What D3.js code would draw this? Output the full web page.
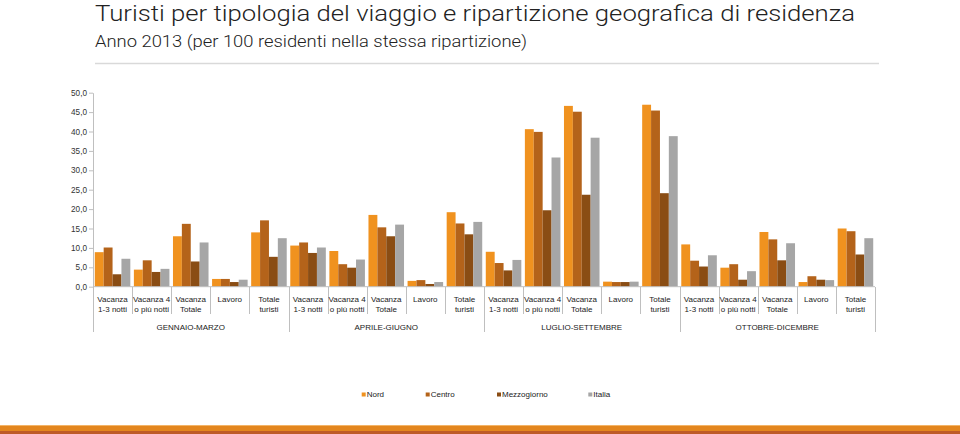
<!DOCTYPE html>
<html>
<head>
<meta charset="utf-8">
<script src="https://cdn.jsdelivr.net/npm/d3@7/dist/d3.min.js"></script>
<style>
html,body{margin:0;padding:0;background:#fff;}
svg{display:block;}
</style>
</head>
<body>
<svg id="chart" width="960" height="434"></svg>
<script>
const periods = ["GENNAIO-MARZO","APRILE-GIUGNO","LUGLIO-SETTEMBRE","OTTOBRE-DICEMBRE"];
const types = [["Vacanza","1-3 notti"],["Vacanza 4","o più notti"],["Vacanza","Totale"],["Lavoro",""],["Totale","turisti"]];
const seriesNames = ["Nord","Centro","Mezzogiorno","Italia"];
const seriesColors = ["#F0921F","#B4631A","#8A4D14","#A6A6A6"];
const yTicks = [0,5,10,15,20,25,30,35,40,45,50];
// values per category (20 = 4 periods x 5 types)
const nord        = [8.9,4.4,13.0,2.0,14.0, 10.6,9.2,18.5,1.5,19.2, 9.0,40.6,46.6,1.3,46.9, 10.9,4.9,14.1,1.2,15.0];
const centro      = [10.1,6.8,16.2,2.0,17.1, 11.4,5.8,15.3,1.7,16.3, 6.1,39.9,45.1,1.2,45.4, 6.7,5.8,12.2,2.7,14.3];
const mezzogiorno = [3.2,3.8,6.5,1.2,7.7, 8.7,4.9,13.0,0.7,13.5, 4.2,19.7,23.7,1.2,24.1, 5.2,1.8,6.8,1.8,8.3];
const italia      = [7.2,4.6,11.4,1.8,12.5, 10.1,7.0,16.0,1.2,16.7, 6.9,33.3,38.4,1.3,38.8, 8.1,4.0,11.2,1.7,12.5];
const seriesValues = [nord, centro, mezzogiorno, italia];

const svg = d3.select("#chart");
const font = "'Liberation Sans', Arial, sans-serif";
const fs = 8;

// Title
svg.append("text").attr("x",95).attr("y",21)
  .attr("font-family","Roboto, sans-serif").attr("font-weight",300)
  .attr("font-size",22.5).attr("fill","#222")
  .attr("textLength",760).attr("lengthAdjust","spacingAndGlyphs")
  .text("Turisti per tipologia del viaggio e ripartizione geografica di residenza");
svg.append("text").attr("x",95).attr("y",47)
  .attr("font-family","Roboto, sans-serif").attr("font-weight",300)
  .attr("font-size",16).attr("fill","#222")
  .attr("textLength",432).attr("lengthAdjust","spacingAndGlyphs")
  .text("Anno 2013 (per 100 residenti nella stessa ripartizione)");
svg.append("line").attr("x1",95).attr("x2",879).attr("y1",63.5).attr("y2",63.5)
  .attr("stroke","#d9d9d9").attr("stroke-width",1.5);

// Scales
const categories = d3.range(20);
const x = d3.scaleBand().domain(categories).range([93,875]).paddingInner(0).paddingOuter(0);
const inner = d3.scaleBand().domain(d3.range(4)).range([0, x.bandwidth()]).paddingOuter(0.2).paddingInner(0);
const y = d3.scaleLinear().domain([0,50]).range([286.7,92.7]);

// Y axis
const yAxis = d3.axisLeft(y).tickValues(yTicks).tickSize(4).tickSizeOuter(0)
  .tickFormat(d => d3.format(".1f")(d).replace(".",","));
const gy = svg.append("g").attr("transform","translate(93,0)").call(yAxis);
gy.select(".domain").attr("stroke","#bfbfbf");
gy.selectAll(".tick line").attr("stroke","#bfbfbf");
gy.selectAll(".tick text").attr("font-family",font).attr("font-size",8.2).attr("fill","#333").attr("x",-6);

// Bars
seriesValues.forEach((vals, si) => {
  svg.append("g").selectAll("rect").data(vals).join("rect")
    .attr("x",(d,i) => x(i) + inner(si))
    .attr("width", inner.bandwidth())
    .attr("y", d => y(d))
    .attr("height", d => y(0) - y(d))
    .attr("fill", seriesColors[si]);
});

// Category axis baseline
svg.append("line").attr("x1",93).attr("x2",875).attr("y1",286.7).attr("y2",286.7)
  .attr("stroke","#bfbfbf");

// Separators
categories.forEach(i => {
  const xv = Math.round(x(i)) + 0.5;
  const major = i % 5 === 0;
  svg.append("line").attr("x1",xv).attr("x2",xv).attr("y1",287).attr("y2", major ? 332 : 314)
    .attr("stroke","#bfbfbf");
});
svg.append("line").attr("x1",875.5).attr("x2",875.5).attr("y1",287).attr("y2",332).attr("stroke","#bfbfbf");

// Category labels
categories.forEach(i => {
  const t = types[i % 5];
  const cx = x(i) + x.bandwidth()/2;
  svg.append("text").attr("x",cx).attr("y",301.5).attr("text-anchor","middle")
    .attr("font-family",font).attr("font-size",fs).attr("fill","#222").text(t[0]);
  if (t[1]) {
    svg.append("text").attr("x",cx).attr("y",311.5).attr("text-anchor","middle")
      .attr("font-family",font).attr("font-size",fs).attr("fill","#222").text(t[1]);
  }
});
periods.forEach((p, pi) => {
  const cx = (x(pi*5) + x(pi*5+4) + x.bandwidth())/2;
  svg.append("text").attr("x",cx).attr("y",329.5).attr("text-anchor","middle")
    .attr("font-family",font).attr("font-size",fs).attr("fill","#222").text(p);
});

// Legend
const legendX = [361.7, 425.7, 497, 588.3];
seriesNames.forEach((n, i) => {
  svg.append("rect").attr("x",legendX[i]).attr("y",392.5).attr("width",4).attr("height",4).attr("fill",seriesColors[i]);
  svg.append("text").attr("x",legendX[i]+5).attr("y",397.3).attr("font-family",font)
    .attr("font-size",fs).attr("fill","#222").text(n);
});

// Bottom stripe
svg.append("rect").attr("x",0).attr("y",425).attr("width",960).attr("height",1).attr("fill","#F3B467");
svg.append("rect").attr("x",0).attr("y",426).attr("width",960).attr("height",5).attr("fill","#E3861E");
svg.append("rect").attr("x",0).attr("y",431).attr("width",960).attr("height",3).attr("fill","#BE5A27");
</script>
</body>
</html>
